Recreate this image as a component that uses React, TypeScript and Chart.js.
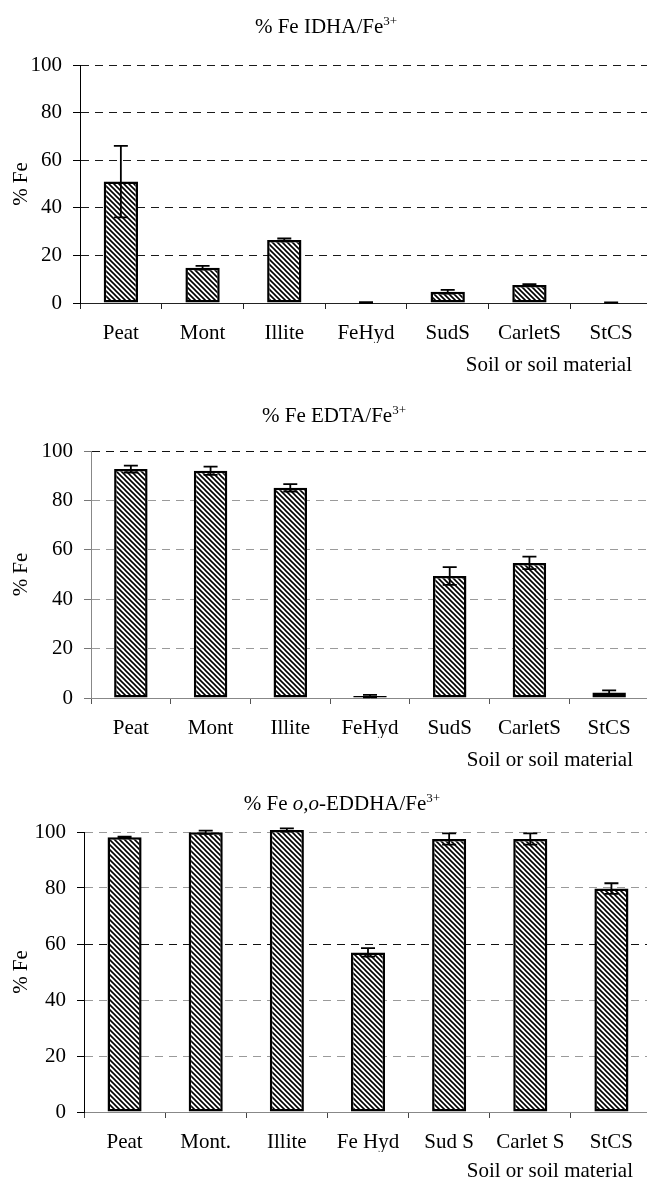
import React, { useEffect, useRef } from "react";
import { Chart, registerables } from "chart.js";

Chart.register(...registerables);

// ---------- data ----------
const categoriesAB = ["Peat", "Mont", "Illite", "FeHyd", "SudS", "CarletS", "StCS"];
const categoriesC = ["Peat", "Mont.", "Illite", "Fe Hyd", "Sud S", "Carlet S", "StCS"];

const idhaValues = [51, 14.8, 26.5, 0.2, 4.7, 7.6, 0.2];
const idhaErrors = [15, 0.8, 0.6, 0.2, 0.8, 0.3, 0.1];

const edtaValues = [92.7, 92.0, 85.1, 0.8, 49.4, 54.7, 2.2];
const edtaErrors = [1.4, 1.7, 1.5, 0.5, 3.6, 2.5, 0.9];

const eddhaValues = [98.1, 99.9, 100.7, 57.0, 97.5, 97.5, 79.8];
const eddhaErrors = [0.2, 0.6, 0.6, 1.5, 2.0, 2.0, 1.9];

const yMin = 0;
const yMax = 100;
const yStep = 20;

const titleIdha = [
  { text: "% Fe IDHA/Fe", italic: false, sup: false },
  { text: "3+", italic: false, sup: true },
];
const titleEdta = [
  { text: "% Fe EDTA/Fe", italic: false, sup: false },
  { text: "3+", italic: false, sup: true },
];
const titleEddha = [
  { text: "% Fe ", italic: false, sup: false },
  { text: "o,o", italic: true, sup: false },
  { text: "-EDDHA/Fe", italic: false, sup: false },
  { text: "3+", italic: false, sup: true },
];

const xAxisTitle = "Soil or soil material";
const yAxisTitle = "% Fe";

// ---------- styling / layout ----------
const FAMILY = "'Liberation Serif', 'Times New Roman', Times, serif";
const CANVAS_W = 660;
const X_AXIS_H = 40;
const TICK_FONT = 21;

type Seg = { text: string; italic: boolean; sup: boolean };

type PanelCfg = {
  top: number;
  height: number;
  plotTop: number;
  plotBottom: number;
  plotLeft: number;
  plotRight: number;
  titleCenter: number;
  titleBaseline: number;
  axisTitleRight: number;
  axisTitleY: number;
  labels: string[];
  values: number[];
  errors: number[];
  title: Seg[];
  gridColor: (v: number) => string;
  yAxisColor: string;
  yTickColor: string;
  baseColor: string;
  xTickColor: string;
};

const panels: PanelCfg[] = [
  {
    top: 0,
    height: 380,
    plotTop: 65,
    plotBottom: 303,
    plotLeft: 80,
    plotRight: 652,
    titleCenter: 326,
    titleBaseline: 33,
    axisTitleRight: 632,
    axisTitleY: 365,
    labels: categoriesAB,
    values: idhaValues,
    errors: idhaErrors,
    title: titleIdha,
    gridColor: (v) => (v === 0 ? "#222" : "#1a1a1a"),
    yAxisColor: "#000",
    yTickColor: "#000",
    baseColor: "#222",
    xTickColor: "#222",
  },
  {
    top: 380,
    height: 400,
    plotTop: 71,
    plotBottom: 318,
    plotLeft: 91,
    plotRight: 649,
    titleCenter: 334,
    titleBaseline: 42,
    axisTitleRight: 633,
    axisTitleY: 380,
    labels: categoriesAB,
    values: edtaValues,
    errors: edtaErrors,
    title: titleEdta,
    gridColor: (v) => (v === 100 ? "#111" : v === 0 ? "#888" : "#9a9a9a"),
    yAxisColor: "#888",
    yTickColor: "#777",
    baseColor: "#888",
    xTickColor: "#555",
  },
  {
    top: 780,
    height: 400,
    plotTop: 52,
    plotBottom: 332,
    plotLeft: 84,
    plotRight: 652,
    titleCenter: 342,
    titleBaseline: 30,
    axisTitleRight: 633,
    axisTitleY: 391,
    labels: categoriesC,
    values: eddhaValues,
    errors: eddhaErrors,
    title: titleEddha,
    gridColor: (v) => (v === 60 ? "#111" : v === 0 ? "#888" : "#9a9a9a"),
    yAxisColor: "#000",
    yTickColor: "#000",
    baseColor: "#888",
    xTickColor: "#444",
  },
];

function segFont(seg: Seg) {
  const size = seg.sup ? 13 : 21;
  return `${seg.italic ? "italic " : ""}${size}px ${FAMILY}`;
}

function makeHatch(ctx: CanvasRenderingContext2D) {
  const s = 5;
  const c = document.createElement("canvas");
  c.width = s;
  c.height = s;
  const g = c.getContext("2d")!;
  g.fillStyle = "#fff";
  g.fillRect(0, 0, s, s);
  g.strokeStyle = "#000";
  g.lineWidth = 1.6;
  g.beginPath();
  g.moveTo(-1, -1);
  g.lineTo(s + 1, s + 1);
  g.moveTo(-1, s - 1);
  g.lineTo(1, s + 1);
  g.moveTo(s - 1, -1);
  g.lineTo(s + 1, 1);
  g.stroke();
  return ctx.createPattern(c, "repeat") || "#888";
}

function makeErrorPlugin(errors: number[]) {
  return {
    id: "errorBars",
    afterDatasetsDraw(chart: any) {
      const meta = chart.getDatasetMeta(0);
      const vals = chart.data.datasets[0].data as number[];
      const y = chart.scales.y;
      const ctx: CanvasRenderingContext2D = chart.ctx;
      ctx.save();
      ctx.strokeStyle = "#000";
      ctx.lineWidth = 1.8;
      meta.data.forEach((el: any, i: number) => {
        const e = errors[i];
        if (!e) return;
        const v = vals[i];
        const yt = y.getPixelForValue(v + e);
        const yb = y.getPixelForValue(Math.max(0, v - e));
        const x = el.x;
        ctx.beginPath();
        ctx.moveTo(x, yt);
        ctx.lineTo(x, yb);
        ctx.moveTo(x - 7, yt);
        ctx.lineTo(x + 7, yt);
        ctx.moveTo(x - 7, yb);
        ctx.lineTo(x + 7, yb);
        ctx.stroke();
      });
      ctx.restore();
    },
  };
}

function makeTextPlugin(p: PanelCfg) {
  return {
    id: "panelTexts",
    afterDraw(chart: any) {
      const ctx: CanvasRenderingContext2D = chart.ctx;
      ctx.save();
      ctx.fillStyle = "#000";
      ctx.textBaseline = "alphabetic";
      ctx.textAlign = "left";
      const widths = p.title.map((seg) => {
        ctx.font = segFont(seg);
        return ctx.measureText(seg.text).width;
      });
      const total = widths.reduce((a, b) => a + b, 0);
      let x = p.titleCenter - total / 2;
      p.title.forEach((seg, i) => {
        ctx.font = segFont(seg);
        ctx.fillText(seg.text, x, p.titleBaseline - (seg.sup ? 8 : 0));
        x += widths[i];
      });
      ctx.font = `21px ${FAMILY}`;
      ctx.textAlign = "right";
      ctx.textBaseline = "middle";
      ctx.fillText(xAxisTitle, p.axisTitleRight, p.axisTitleY);
      ctx.restore();
    },
  };
}

function Panel({ cfg }: { cfg: PanelCfg }) {
  const ref = useRef<HTMLCanvasElement>(null);
  useEffect(() => {
    const canvas = ref.current!;
    const ctx = canvas.getContext("2d")!;
    const pattern = makeHatch(ctx);
    const chart = new Chart(canvas, {
      type: "bar",
      data: {
        labels: cfg.labels,
        datasets: [
          {
            data: cfg.values,
            backgroundColor: pattern as any,
            borderColor: "#000",
            borderWidth: 2.5,
            borderSkipped: false,
            barPercentage: 0.42,
            categoryPercentage: 1,
            clip: false as any,
          },
        ],
      },
      options: {
        responsive: false,
        animation: false,
        devicePixelRatio: 1,
        layout: {
          padding: {
            top: cfg.plotTop,
            bottom: cfg.height - cfg.plotBottom - X_AXIS_H,
            left: 0,
            right: CANVAS_W - cfg.plotRight,
          },
        },
        plugins: {
          legend: { display: false },
          tooltip: { enabled: false },
          title: { display: false },
        },
        scales: {
          x: {
            type: "category",
            offset: true,
            grid: {
              offset: true,
              drawOnChartArea: false,
              drawTicks: true,
              tickLength: 6,
              color: cfg.xTickColor,
              tickColor: cfg.xTickColor,
              lineWidth: 1,
            },
            border: { display: true, color: cfg.baseColor, width: 1 },
            ticks: {
              color: "#000",
              font: { family: FAMILY, size: TICK_FONT },
              padding: 12,
              autoSkip: false,
              maxRotation: 0,
              minRotation: 0,
            },
            afterFit: (s: any) => {
              s.height = X_AXIS_H;
            },
          },
          y: {
            min: yMin,
            max: yMax,
            ticks: {
              stepSize: yStep,
              color: "#000",
              font: { family: FAMILY, size: TICK_FONT },
              padding: 11,
            },
            grid: {
              color: (c: any) => (c.tick ? cfg.gridColor(c.tick.value) : "#000"),
              tickColor: cfg.yTickColor,
              tickLength: 7,
              lineWidth: 1,
            },
            border: { display: true, color: cfg.yAxisColor, width: 1, dash: [8, 6] },
            title: {
              display: true,
              text: yAxisTitle,
              color: "#000",
              font: { family: FAMILY, size: 21 },
              padding: { top: 9, bottom: 0 },
            },
            afterFit: (s: any) => {
              s.width = cfg.plotLeft;
            },
          },
        },
      } as any,
      plugins: [makeErrorPlugin(cfg.errors), makeTextPlugin(cfg)],
    });
    return () => chart.destroy();
  }, [cfg]);
  return (
    <canvas
      ref={ref}
      width={CANVAS_W}
      height={cfg.height}
      style={{
        position: "absolute",
        left: 0,
        top: cfg.top,
        width: CANVAS_W,
        height: cfg.height,
        display: "block",
      }}
    />
  );
}

export default function App() {
  return (
    <div
      style={{
        position: "fixed",
        left: 0,
        top: 0,
        width: 647,
        height: 1180,
        overflow: "hidden",
        background: "#fff",
      }}
    >
      {panels.map((p, i) => (
        <Panel key={i} cfg={p} />
      ))}
    </div>
  );
}
